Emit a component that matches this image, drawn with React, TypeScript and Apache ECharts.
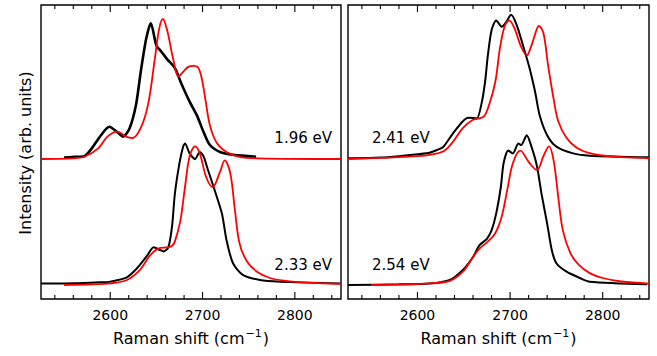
import React, { useEffect, useRef } from "react";
import * as echarts from "echarts";

const X_MIN = 2525;
const X_MAX = 2850;
const Y_MIN = 0;
const Y_MAX = 2.1;
const majorTicks = [2600, 2700, 2800];
const minorTicks = [2540, 2560, 2580, 2620, 2640, 2660, 2680, 2720, 2740, 2760, 2780, 2820, 2840];
const offsets = { top: 1.0, bottom: 0.1 };
const energyLabels = ["1.96 eV", "2.33 eV", "2.41 eV", "2.54 eV"];

// Left panel, top: 1.96 eV
const black196: [number, number][] = [[2550,0.01],[2561,0.015],[2572,0.02],[2580,0.076],[2590,0.17],[2599,0.23],[2608,0.19],[2614,0.16],[2621,0.22],[2628,0.39],[2633,0.62],[2639,0.86],[2644,0.97],[2650,0.81],[2655,0.77],[2662,0.71],[2670,0.65],[2677,0.54],[2686,0.41],[2694,0.31],[2701,0.195],[2708,0.10],[2719,0.05],[2733,0.03],[2758,0.016]];
const red196: [number, number][] = [[2525,0],[2560,0.005],[2572,0.016],[2587,0.076],[2597,0.16],[2608,0.195],[2617,0.16],[2624,0.15],[2633,0.22],[2641,0.39],[2648,0.70],[2653,0.93],[2657,1.0],[2662,0.91],[2668,0.72],[2674,0.59],[2680,0.63],[2685,0.66],[2690,0.665],[2695,0.655],[2699,0.58],[2703,0.43],[2708,0.24],[2715,0.12],[2726,0.05],[2740,0.016],[2760,0.005],[2850,0]];
// Left panel, bottom: 2.33 eV
const black233: [number, number][] = [[2525,0.01],[2560,0.012],[2590,0.02],[2600,0.024],[2618,0.055],[2629,0.12],[2640,0.21],[2647,0.27],[2654,0.25],[2658,0.24],[2663,0.27],[2667,0.42],[2670,0.65],[2675,0.87],[2679,0.99],[2681,1.01],[2686,0.94],[2692,0.90],[2697,0.95],[2701,0.92],[2706,0.82],[2713,0.68],[2721,0.51],[2726,0.32],[2733,0.155],[2744,0.07],[2762,0.036],[2784,0.024],[2850,0.01]];
const red233: [number, number][] = [[2550,0],[2580,0.005],[2600,0.012],[2618,0.036],[2632,0.107],[2643,0.21],[2652,0.26],[2663,0.27],[2667,0.28],[2670,0.31],[2676,0.46],[2681,0.70],[2686,0.92],[2692,0.99],[2697,0.94],[2704,0.77],[2711,0.70],[2719,0.81],[2724,0.89],[2730,0.80],[2735,0.54],[2740,0.30],[2748,0.17],[2759,0.095],[2773,0.050],[2790,0.030],[2815,0.017],[2850,0.008]];
// Right panel, top: 2.41 eV
const black241: [number, number][] = [[2525,0.005],[2560,0.01],[2592,0.029],[2613,0.045],[2621,0.064],[2628,0.088],[2638,0.18],[2649,0.27],[2655,0.295],[2664,0.29],[2669,0.39],[2673,0.55],[2676,0.74],[2680,0.92],[2685,0.99],[2691,0.945],[2696,0.98],[2701,1.03],[2707,0.96],[2714,0.81],[2721,0.65],[2727,0.48],[2732,0.31],[2740,0.17],[2750,0.088],[2768,0.04],[2786,0.024],[2850,0.012]];
const red241: [number, number][] = [[2525,0],[2570,0.01],[2600,0.02],[2613,0.029],[2628,0.055],[2638,0.12],[2649,0.22],[2660,0.28],[2671,0.30],[2676,0.36],[2684,0.55],[2689,0.79],[2694,0.945],[2699,0.99],[2705,0.93],[2712,0.80],[2718,0.74],[2723,0.81],[2729,0.93],[2731,0.95],[2736,0.90],[2741,0.67],[2747,0.43],[2752,0.27],[2761,0.15],[2772,0.08],[2784,0.045],[2800,0.025],[2820,0.014],[2850,0.006]];
// Right panel, bottom: 2.54 eV
const black254: [number, number][] = [[2525,0],[2580,0.005],[2613,0.01],[2635,0.036],[2649,0.107],[2660,0.20],[2667,0.285],[2675,0.33],[2680,0.39],[2685,0.51],[2690,0.70],[2693,0.87],[2698,0.96],[2703,0.94],[2709,1.01],[2712,1.0],[2718,1.07],[2723,0.99],[2729,0.85],[2734,0.65],[2740,0.44],[2745,0.25],[2750,0.155],[2761,0.095],[2776,0.048],[2786,0.024],[2848,0.005]];
const red254: [number, number][] = [[2550,0],[2590,0.005],[2613,0.012],[2635,0.03],[2649,0.095],[2660,0.20],[2667,0.26],[2676,0.31],[2684,0.37],[2691,0.49],[2697,0.68],[2703,0.87],[2711,0.96],[2720,0.88],[2729,0.82],[2736,0.92],[2742,0.99],[2747,0.89],[2752,0.63],[2757,0.39],[2765,0.23],[2774,0.145],[2786,0.085],[2800,0.05],[2820,0.025],[2850,0.01]];

const FONT = "DejaVu Sans";
const PLOT_H = 294;

function shift(d: [number, number][], off: number) {
  return d.map(([x, y]) => [x, y + off]);
}

export default function App() {
  const ref = useRef<HTMLDivElement>(null);
  useEffect(() => {
    if (!ref.current) return;
    const chart = echarts.init(ref.current, null, { renderer: "svg" });
    const panels = [
      { left: 41, width: 300 },
      { left: 348, width: 301 },
    ];
    const grids: any[] = panels.map((p) => ({
      left: p.left, top: 5, width: p.width, height: PLOT_H,
      show: true, borderColor: "#000", borderWidth: 1.4, backgroundColor: "transparent",
    }));
    const xAxes: any[] = panels.map((_, g) => ({
      gridIndex: g,
      type: "value",
      position: "bottom",
      min: X_MIN,
      max: X_MAX,
      axisLine: { show: false },
      splitLine: { show: false },
      axisTick: { show: false },
      axisLabel: {
        show: true,
        customValues: majorTicks,
        formatter: (v: number) => String(v),
        color: "#000",
        fontSize: 14,
        fontFamily: FONT,
        margin: 9,
      },
    }));
    const yAxes: any[] = panels.map((_, g) => ({ gridIndex: g, type: "value", min: Y_MIN, max: Y_MAX, show: false }));

    const series: any[] = [];
    const add = (data: [number, number][], off: number, grid: number, color: string, width: number, smooth: number) => {
      series.push({
        type: "line",
        xAxisIndex: grid,
        yAxisIndex: grid,
        data: shift(data, off),
        showSymbol: false,
        smooth,
        lineStyle: { color, width },
        silent: true,
        z: 3,
      });
    };
    add(black196, offsets.top, 0, "#000", 2.6, 0.25);
    add(black233, offsets.bottom, 0, "#000", 2.0, 0.25);
    add(red196, offsets.top, 0, "#ff0000", 1.8, 0.35);
    add(red233, offsets.bottom, 0, "#ff0000", 1.8, 0.35);
    add(black241, offsets.top, 1, "#000", 2.0, 0.25);
    add(black254, offsets.bottom, 1, "#000", 2.0, 0.25);
    add(red241, offsets.top, 1, "#ff0000", 1.8, 0.35);
    add(red254, offsets.bottom, 1, "#ff0000", 1.8, 0.35);

    // tick marks: short vertical segments at tick values, on bottom and top edges
    const unitsPerPx = (Y_MAX - Y_MIN) / PLOT_H;
    const tickSegs: any[] = [];
    const pushTicks = (vals: number[], lenPx: number) => {
      vals.forEach((v) => {
        tickSegs.push([v, Y_MIN], [v, Y_MIN + lenPx * unitsPerPx], null);
        tickSegs.push([v, Y_MAX], [v, Y_MAX - lenPx * unitsPerPx], null);
      });
    };
    pushTicks(majorTicks, 7);
    pushTicks(minorTicks, 4);
    panels.forEach((_, g) => {
      series.push({
        type: "line",
        xAxisIndex: g,
        yAxisIndex: g,
        data: tickSegs,
        showSymbol: false,
        connectNulls: false,
        clip: false,
        silent: true,
        z: 5,
        lineStyle: { color: "#000", width: 1.1 },
      });
    });

    const textStyle = { fill: "#000", fontSize: 15, fontFamily: FONT };
    const xLabel = (cx: number) => ({
      type: "text",
      x: cx,
      y: 338,
      style: {
        text: "{a|Raman shift (cm}{s|−1}{a|)}",
        textAlign: "center",
        textVerticalAlign: "middle",
        rich: {
          a: { fontSize: 16, fontFamily: FONT, fill: "#000" },
          s: { fontSize: 11, fontFamily: FONT, fill: "#000", padding: [0, 1, 9, 1] },
        },
      },
    });
    const graphic: any[] = [
      { type: "text", x: 332, y: 138, style: { ...textStyle, text: energyLabels[0], textAlign: "right", textVerticalAlign: "middle" } },
      { type: "text", x: 332, y: 265, style: { ...textStyle, text: energyLabels[1], textAlign: "right", textVerticalAlign: "middle" } },
      { type: "text", x: 372, y: 138, style: { ...textStyle, text: energyLabels[2], textAlign: "left", textVerticalAlign: "middle" } },
      { type: "text", x: 372, y: 265, style: { ...textStyle, text: energyLabels[3], textAlign: "left", textVerticalAlign: "middle" } },
      { type: "text", x: 25, y: 153, rotation: Math.PI / 2, style: { ...textStyle, fontSize: 16, text: "Intensity (arb. units)", textAlign: "center", textVerticalAlign: "middle" } },
      xLabel(191),
      xLabel(498.5),
    ];
    chart.setOption({
      animation: false,
      backgroundColor: "#fff",
      grid: grids,
      xAxis: xAxes,
      yAxis: yAxes,
      series,
      graphic,
    });
    return () => chart.dispose();
  }, []);
  return <div ref={ref} style={{ position: "fixed", left: 0, top: 0, width: 657, height: 356 }} />;
}
